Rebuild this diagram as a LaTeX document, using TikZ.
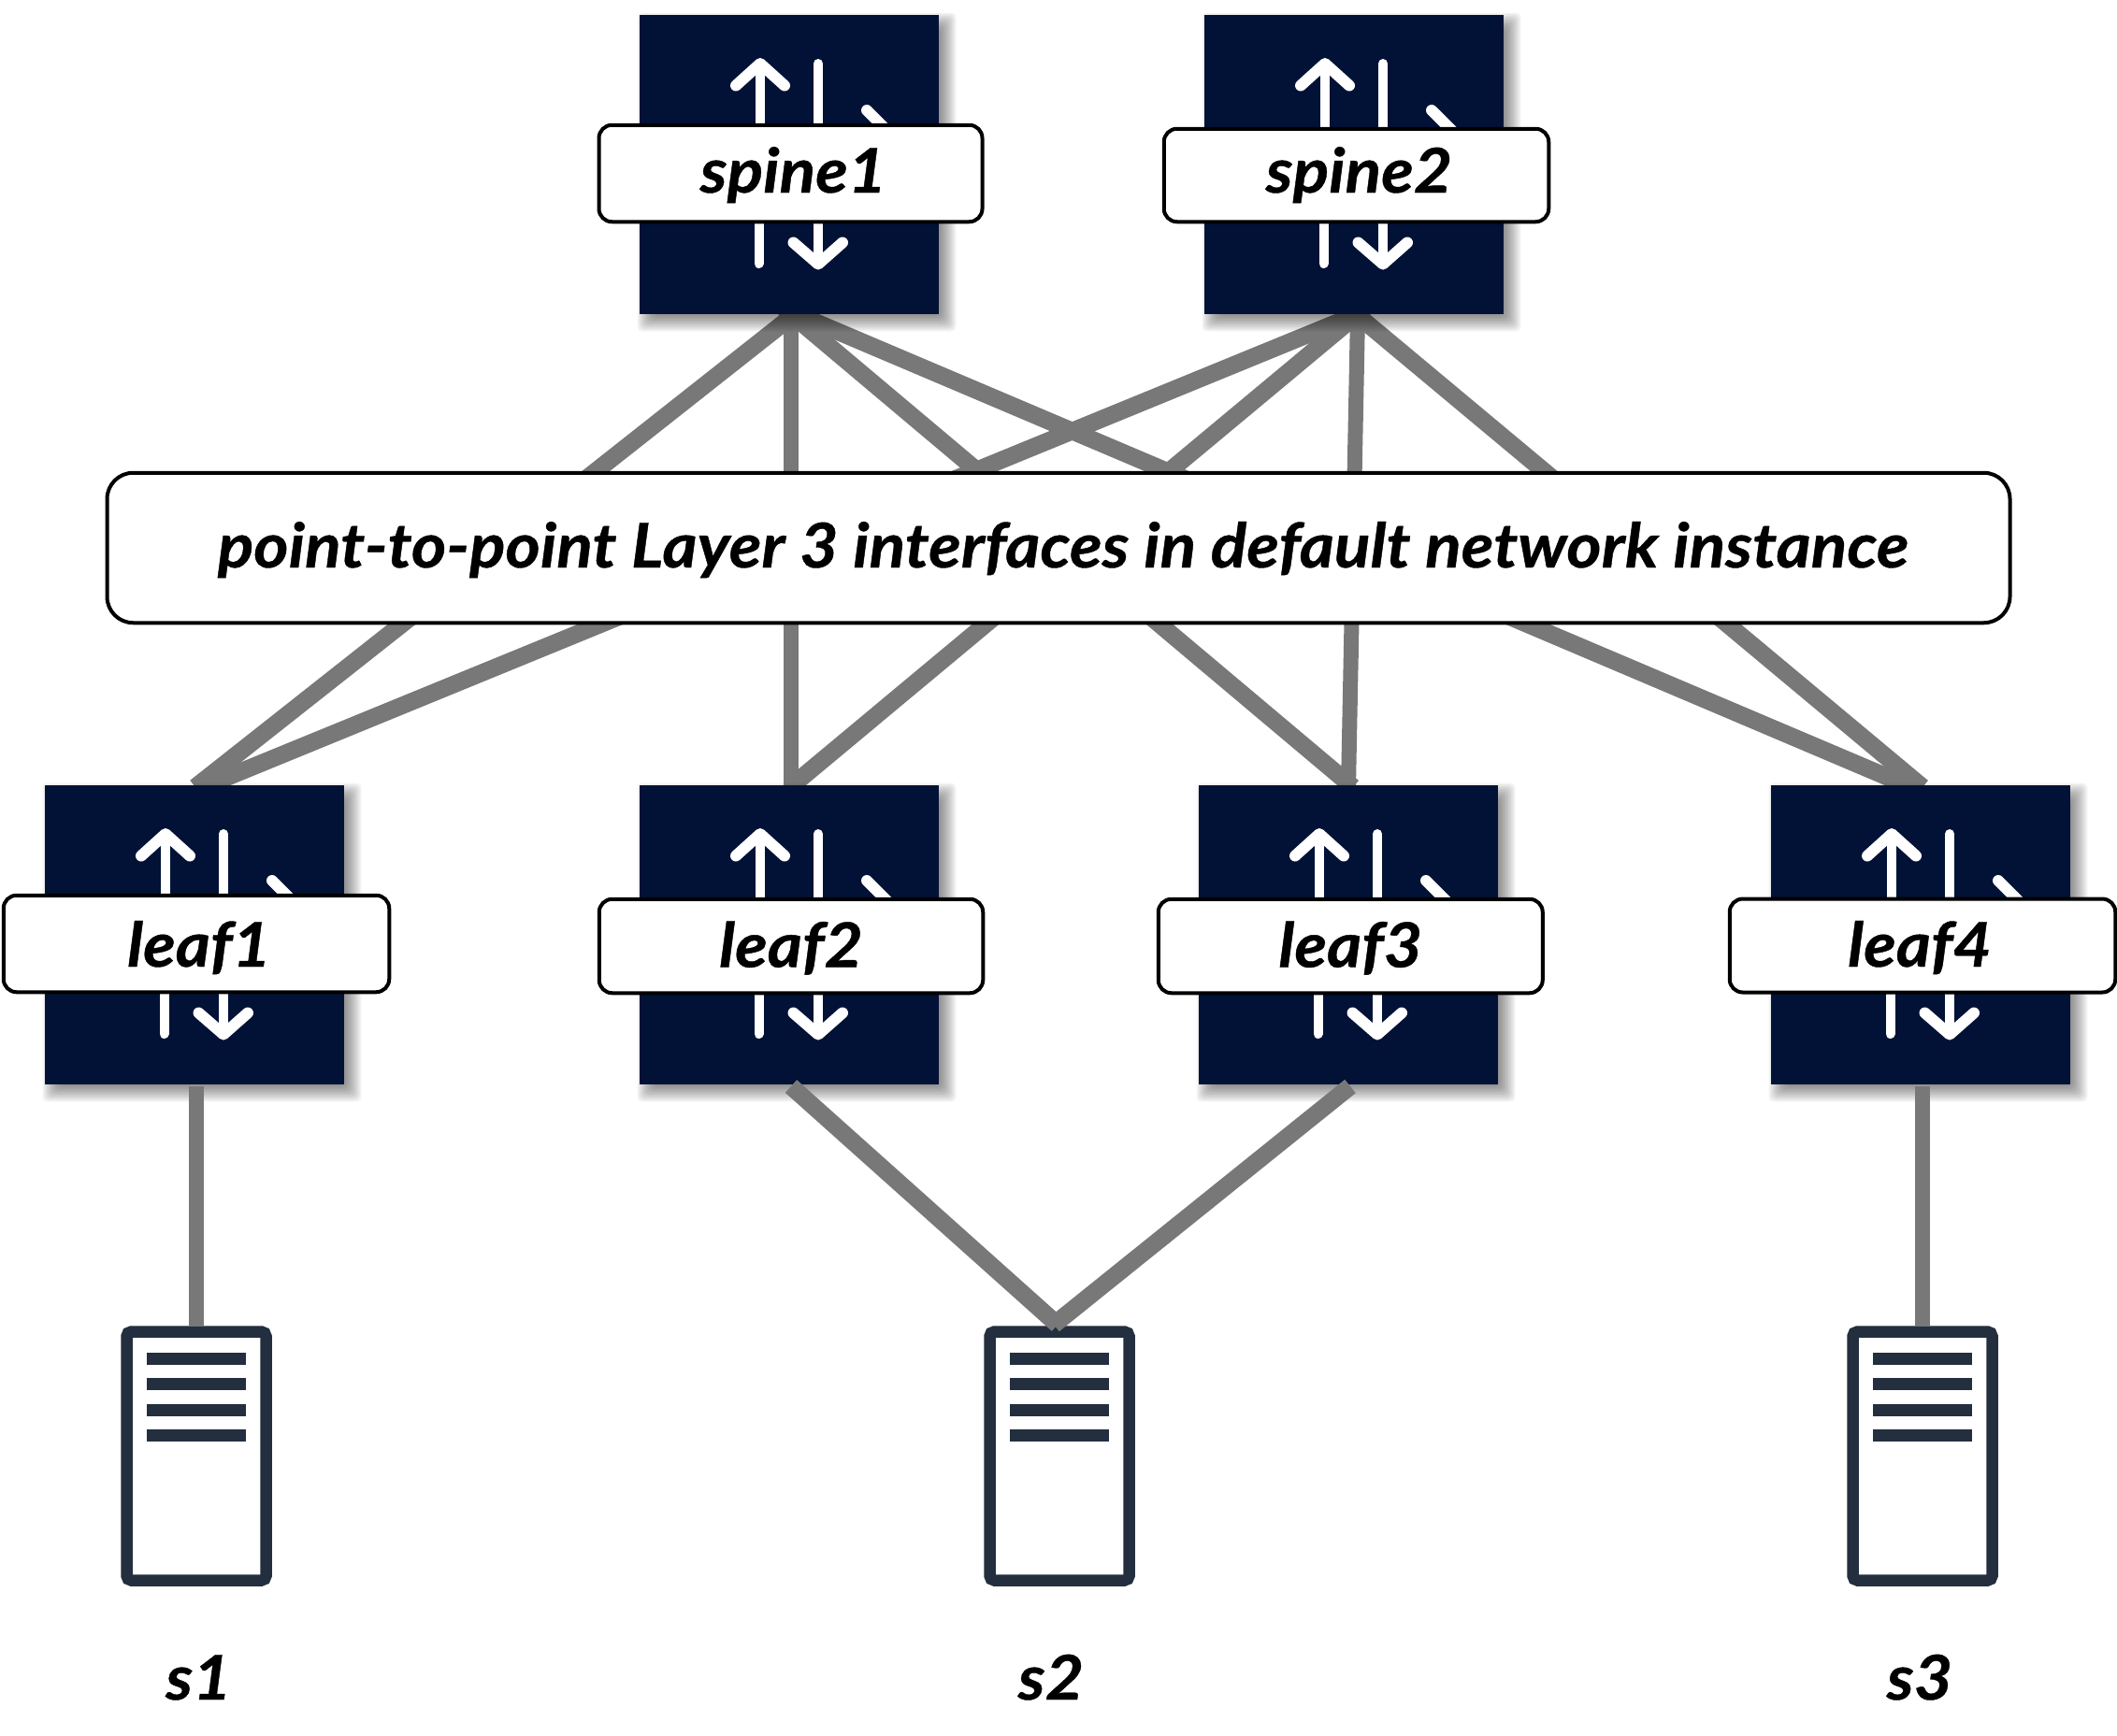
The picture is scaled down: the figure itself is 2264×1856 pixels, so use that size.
\documentclass[tikz,border=0pt]{standalone}
\usepackage{fontspec}
\setmainfont{Lato}[BoldItalicFeatures={FakeStretch=1.08,FakeBold=0.6}]
\usetikzlibrary{calc}
\pgfdeclarelayer{linklayer}
\pgfdeclarelayer{shadowlayer}
\pgfsetlayers{linklayer,shadowlayer,main}
\definecolor{navy}{HTML}{011236}
\definecolor{linkgrey}{HTML}{787878}
\definecolor{srvcol}{HTML}{232F3E}
\tikzset{
  routerbox/.style={rectangle,fill=navy,draw=none,minimum size=320pt,inner sep=0pt,outer sep=0pt},
  tagbox/.style={rectangle,rounded corners=14pt,draw=black,line width=4pt,fill=white,
     inner sep=0pt,outer sep=0pt,text=black,
     font=\fontsize{66}{70}\bfseries\itshape\selectfont,text depth=0pt},
  serverbox/.style={rectangle,rounded corners=5pt,draw=srvcol,line width=12.5pt,fill=white,
     minimum width=149pt,minimum height=266pt,inner sep=0pt,outer sep=0pt},
  caption/.style={font=\fontsize{66}{70}\bfseries\itshape\selectfont,text=black,anchor=base,inner sep=0pt},
  link/.style={draw=linkgrey,line width=16pt,line cap=butt},
  slant/.style={link,line width=18.5pt},
  uplink/.style={link,shorten <=-10pt},
  upslant/.style={slant,shorten <=-10pt},
  glyph/.style={draw=white,line width=10pt,line cap=round,line join=round},
  wing/.style={glyph,line width=12pt},
}
\begin{document}
\begin{tikzpicture}[x=1pt,y=-1pt]
\useasboundingbox (0,0) rectangle (2264,1856);
% routers with icon and shadow
\foreach \n/\cx/\cy in {spine1/844/176,spine2/1448/176,leaf1/208/1000,leaf2/844/1000,leaf3/1442/1000,leaf4/2054/1000}{
  \node[routerbox] (\n) at (\cx,\cy) {};
  \begin{pgfonlayer}{shadowlayer}
    \foreach \e in {-9,-7.5,-6,-4.5,-3,-1.5,0,1.5,3,4.5,6,7.5,9,10.5}
      \fill[black,opacity=.042,rounded corners=5pt] ([shift={(8-\e,8-\e)}]\n.north west) rectangle ([shift={(8+\e,8+\e)}]\n.south east);
  \end{pgfonlayer}
  \begin{scope}[shift={(\n.center)}]
    \draw[wing] (-57,-84.5) -- (-31,-108) -- (-5,-84.5);
    \draw[glyph] (-31,-108) -- (-31,-6);
    \draw[glyph] (31,-108) -- (31,0);
    \draw[wing] (83,-58) -- (115,-26);
    \draw[glyph] (-32.5,0) -- (-32.5,106);
    \draw[glyph] (31,0) -- (31,106);
    \draw[wing] (4.5,83.5) -- (31,106.5) -- (57,83.5);
  \end{scope}
}
% router labels
\node[tagbox,minimum width=410pt,minimum height=103.5pt,text height=41pt] (spine1tag) at (845.5,185.5) {\hspace*{6pt}spine1};
\node[tagbox,minimum width=411.5pt,minimum height=99.5pt,text height=37pt] (spine2tag) at (1450.5,187.5) {\hspace*{6pt}spine2};
\node[tagbox,minimum width=412.5pt,minimum height=103.5pt,text height=49pt] (leaf1tag) at (210,1009.5) {\hspace*{6pt}leaf1};
\node[tagbox,minimum width=410.5pt,minimum height=100.5pt,text height=45pt] (leaf2tag) at (846,1012) {leaf2};
\node[tagbox,minimum width=411pt,minimum height=100.5pt,text height=45pt] (leaf3tag) at (1444.25,1012) {leaf3};
\node[tagbox,minimum width=412.5pt,minimum height=100pt,text height=45pt] (leaf4tag) at (2056,1011.5) {\hspace*{-6pt}leaf4};
% centre banner
\node[tagbox,rounded corners=28pt,minimum width=2035pt,minimum height=160.5pt,text height=42pt] (fabric) at (1132,586) {\hspace*{10pt}point-to-point Layer 3 interfaces in default network instance};
% spine-leaf links (behind the shadows and the banner)
\begin{pgfonlayer}{linklayer}
  \draw[upslant] ([shift={(6,0)}]spine1.south) -- ([shift={(1,2)}]leaf1.north);
  \draw[uplink] ([shift={(2,0)}]spine1.south) -- ([shift={(2,2)}]leaf2.north);
  \draw[upslant] ([shift={(2,0)}]spine1.south) -- ([shift={(5,2)}]leaf3.north);
  \draw[upslant] ([shift={(8,0)}]spine1.south) -- ([shift={(-10,2)}]leaf4.north);
  \draw[upslant] ([shift={(4,0)}]spine2.south) -- ([shift={(9,2)}]leaf1.north);
  \draw[upslant] ([shift={(4,0)}]spine2.south) -- ([shift={(1,2)}]leaf2.north);
  \draw[uplink] ([shift={(4,0)}]spine2.south) -- ([shift={(0,2)}]leaf3.north);
  \draw[upslant] ([shift={(2,0)}]spine2.south) -- ([shift={(2,2)}]leaf4.north);
\end{pgfonlayer}
% servers
\foreach \n/\cx in {s1/210,s2/1133,s3/2056}{
  \node[serverbox] (\n) at (\cx,1557.5) {};
  \foreach \ya/\yb in {-110.5/-97.8,-83.5/-70.8,-55.5/-42.8,-28.2/-15.2}
    \fill[srvcol] ([shift={(-52.7,\ya)}]\n.center) rectangle ([shift={(52.7,\yb)}]\n.center);
}
\node[caption] (s1cap) at (212.5,1818) {s1};
\node[caption] (s2cap) at (1124,1818) {s2};
\node[caption] (s3cap) at (2053,1818) {s3};
% leaf-server links
\draw[link] ([shift={(2,2)}]leaf1.south) -- ([shift={(0,-6.5)}]s1.north);
\draw[slant] ([shift={(2,2)}]leaf2.south) -- ([shift={(-2,-7.5)}]s2.north);
\draw[slant] ([shift={(2,2)}]leaf3.south) -- ([shift={(-6,-7.5)}]s2.north);
\draw[link] ([shift={(2,2)}]leaf4.south) -- ([shift={(0,-6.5)}]s3.north);
\end{tikzpicture}
\end{document}
